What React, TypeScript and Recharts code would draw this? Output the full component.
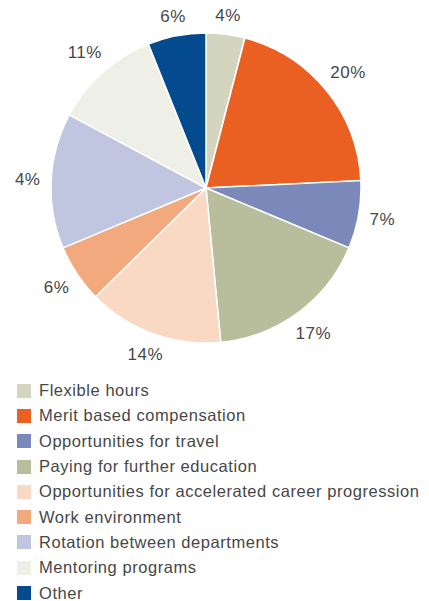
import { PieChart, Pie, Cell } from 'recharts';

const categories = [
  'Flexible hours',
  'Merit based compensation',
  'Opportunities for travel',
  'Paying for further education',
  'Opportunities for accelerated career progression',
  'Work environment',
  'Rotation between departments',
  'Mentoring programs',
  'Other',
];

const shares = [4, 20, 7, 17, 14, 6, 14, 11, 6];

// printed labels as they appear on the chart (the rotation slice is printed as 4%)
const sliceLabels = ['4%', '20%', '7%', '17%', '14%', '6%', '4%', '11%', '6%'];

const colors = [
  '#d3d5bf',
  '#e96022',
  '#7a89ba',
  '#b8bd9c',
  '#f9d9c3',
  '#f3a97e',
  '#c0c6df',
  '#eeefe7',
  '#034a8e',
];

const data = categories.map((name, i) => ({ name, value: shares[i] }));

const RADIAN = Math.PI / 180;
const FONT = '"Liberation Sans", Arial, sans-serif';

function renderLabel(props: any) {
  const { cx, cy, midAngle, outerRadius, index } = props;
  const text = sliceLabels[index];
  const cos = Math.cos(-midAngle * RADIAN);
  const sin = Math.sin(-midAngle * RADIAN);
  // keep a constant gap between the slice edge and the label box
  const halfW = ((text.length - 1) * 9.5 + 15) / 2;
  const halfH = 6;
  const r = outerRadius + 11 + Math.abs(cos) * halfW + Math.abs(sin) * halfH;
  const x = cx + r * cos;
  const y = cy + r * sin;
  return (
    <text
      x={x}
      y={y}
      fill="#474747"
      fontSize={17}
      letterSpacing={0.5}
      fontFamily={FONT}
      textAnchor="middle"
      dominantBaseline="central"
    >
      {text}
    </text>
  );
}

function LegendList() {
  return (
    <div style={{ position: 'absolute', left: 17, top: 378, fontFamily: FONT }}>
      {data.map((d, i) => (
        <div
          key={d.name}
          style={{ display: 'flex', alignItems: 'center', height: 25.3, whiteSpace: 'nowrap' }}
        >
          <span
            style={{
              display: 'inline-block',
              width: 14,
              height: 14,
              background: colors[i],
              marginRight: 8,
            }}
          />
          <span style={{ fontSize: 16.5, letterSpacing: 0.55, color: '#474747' }}>{d.name}</span>
        </div>
      ))}
    </div>
  );
}

export default function App() {
  return (
    <div style={{ position: 'absolute', left: 0, top: 0, width: 429, height: 601, background: '#fff' }}>
      <PieChart width={429} height={370} margin={{ top: 0, right: 0, bottom: 0, left: 0 }}>
        <Pie
          data={data}
          dataKey="value"
          nameKey="name"
          cx={206}
          cy={188}
          outerRadius={155}
          startAngle={90}
          endAngle={-270}
          stroke="#fff"
          strokeWidth={1.5}
          label={renderLabel}
          labelLine={false}
          isAnimationActive={false}
        >
          {data.map((d, i) => (
            <Cell key={d.name} fill={colors[i]} />
          ))}
        </Pie>
      </PieChart>
      <LegendList />
    </div>
  );
}
